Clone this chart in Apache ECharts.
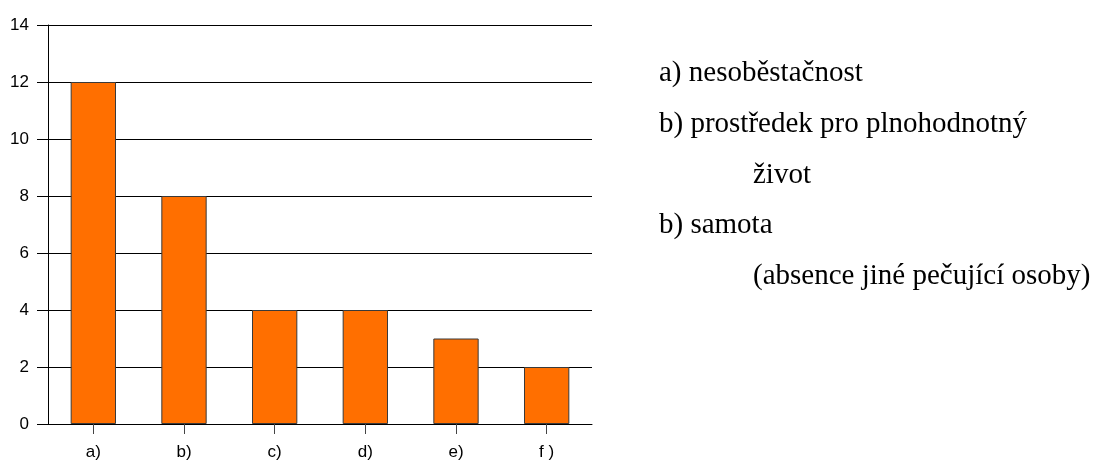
<!DOCTYPE html>
<html>
<head>
<meta charset="utf-8">
<script src="https://cdn.jsdelivr.net/npm/echarts@6/dist/echarts.min.js"></script>
<style>
  html, body { margin: 0; padding: 0; background: #fff; }
  #chart { width: 1096px; height: 462px; }
</style>
</head>
<body>
<div id="chart"></div>
<script>
// Category labels along the x axis
const categories = ['a)', 'b)', 'c)', 'd)', 'e)', 'f )'];
// Counts per category
const counts = [12, 8, 4, 4, 3, 2];
// Explanatory notes shown beside the chart: [text, indented]
const notes = [
  ['a) nesoběstačnost', false],
  ['b) prostředek pro plnohodnotný', false],
  ['život', true],
  ['b) samota', false],
  ['(absence jiné pečující osoby)', true]
];

const chart = echarts.init(document.getElementById('chart'), null, { renderer: 'canvas' });

const noteFont = '"Liberation Serif", "Times New Roman", serif';
const noteElements = notes.map((n, i) => ({
  type: 'text',
  left: n[1] ? 753 : 659,
  top: 59 + i * 50.7,
  style: {
    text: n[0],
    font: '29px ' + noteFont,
    fill: '#000'
  }
}));

const sansFont = '"Liberation Sans", Arial, sans-serif';

chart.setOption({
  animation: false,
  backgroundColor: '#fff',
  grid: { left: 48, right: 504, top: 25, bottom: 38 },
  xAxis: {
    type: 'category',
    data: categories,
    axisLine: { lineStyle: { color: '#000', width: 1 } },
    axisTick: { show: true, alignWithLabel: true, length: 10, lineStyle: { color: '#444' } },
    axisLabel: { margin: 20, color: '#000', fontSize: 17, fontFamily: sansFont }
  },
  yAxis: {
    type: 'value',
    min: 0,
    max: 14,
    interval: 2,
    axisLine: { show: true, lineStyle: { color: '#000', width: 1 } },
    axisTick: { show: true, length: 11, lineStyle: { color: '#000' } },
    splitLine: { show: true, lineStyle: { color: '#000', width: 1 } },
    axisLabel: { margin: 19, color: '#000', fontSize: 17, fontFamily: sansFont }
  },
  series: [{
    type: 'bar',
    data: counts,
    barWidth: '50%',
    itemStyle: { color: '#ff6f00', borderColor: '#3a3a3a', borderWidth: 1 }
  }],
  graphic: noteElements
});
</script>
</body>
</html>
